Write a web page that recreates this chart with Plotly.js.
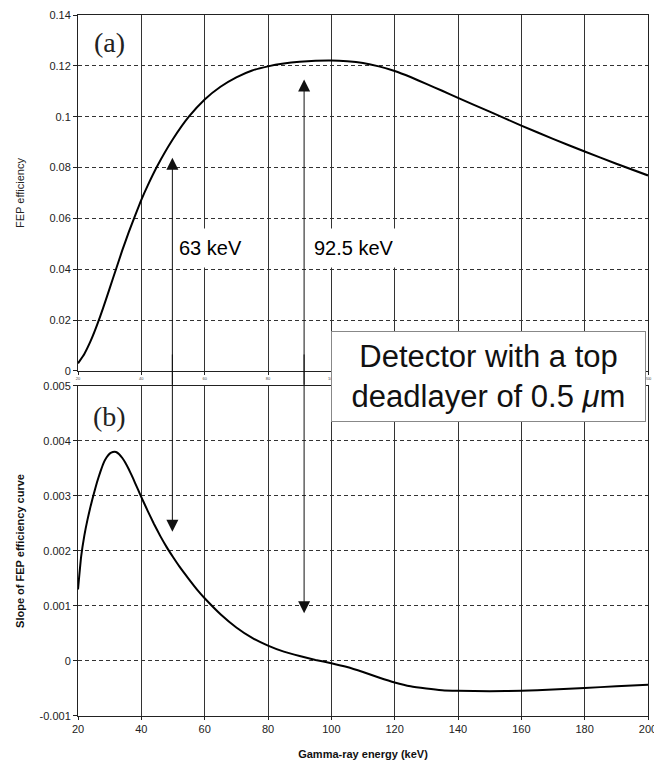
<!DOCTYPE html>
<html>
<head>
<meta charset="utf-8">
<script src="https://cdn.plot.ly/plotly-3.0.1.min.js"></script>
<style>html,body{margin:0;padding:0;background:#fff;}#chart{width:654px;height:765px;}</style>
</head>
<body>
<div id="chart"></div>
<script>
// Panel (a): FEP efficiency vs gamma-ray energy
const energyA = [20,22,24,26,28,30,32,34,36,38,40,42,45,50,55,60,65,70,75,80,85,90,95,100,105,110,115,120,125,130,135,140,150,160,170,180,190,200];
const fepEff  = [0.003,0.0067,0.0118,0.018,0.025,0.0325,0.040,0.0475,0.0545,0.061,0.0673,0.0729,0.0805,0.0912,0.1,0.1068,0.1118,0.1155,0.1182,0.1198,0.1209,0.1216,0.1220,0.1221,0.1218,0.1211,0.1198,0.1180,0.1156,0.1129,0.1102,0.1074,0.1020,0.0965,0.0913,0.0863,0.0815,0.0769];

// Panel (b): slope of FEP efficiency curve
const energyB = [20,21,22,23,24,25,26,27,28,29,30,31,32,33,34,35,36,37,38,39,40,42,44,46,48,50,52,55,58,60,65,70,75,80,85,90,95,100,105,110,115,120,125,130,135,140,150,160,170,180,190,200];
const slope   = [0.0013,0.0019,0.00228,0.00257,0.00282,0.00304,0.00325,0.00343,0.00359,0.0037,0.00377,0.0038,0.0038,0.00376,0.00369,0.0036,0.00349,0.00337,0.00324,0.00311,0.00298,0.00273,0.00249,0.00227,0.00207,0.00189,0.00172,0.00149,0.00127,0.00114,0.00085,0.00061,0.00042,0.00028,0.00017,0.00009,0.00002,-0.00004,-0.00011,-0.0002,-0.0003,-0.00039,-0.00046,-0.0005,-0.00053,-0.00054,-0.00055,-0.00054,-0.00052,-0.00049,-0.00046,-0.00043];

const xTicks = [20,40,60,80,100,120,140,160,180,200];
const yTicksA = [0,0.02,0.04,0.06,0.08,0.1,0.12,0.14];
const yTickTextA = ['0','0.02','0.04','0.06','0.08','0.1','0.12','0.14'];
const yTicksB = [-0.001,0,0.001,0.002,0.003,0.004,0.005];
const yTickTextB = ['-0.001','0','0.001','0.002','0.003','0.004','0.005'];

// Arrow markers: energy, tip in panel (a), tip in panel (b)
const arrowEnergy = [49.8, 91.4];
const arrowTipA = [0.0839, 0.1146];
const arrowTipB = [0.00235, 0.00087];
const arrowLabels = ['63 keV', '92.5 keV'];
const labelEnergy = [61.8, 107.2];
const labelY = [0.0485, 0.0485];

const FONT = 'Liberation Sans, Arial, sans-serif';
const gridCol = '#333';

const traces = [
  {x: energyA, y: fepEff, xaxis: 'x', yaxis: 'y', mode: 'lines', line: {color: '#000', width: 2, shape: 'spline', smoothing: 0.4}, hoverinfo: 'skip'},
  {x: energyB, y: slope, xaxis: 'x2', yaxis: 'y2', mode: 'lines', line: {color: '#000', width: 2, shape: 'spline', smoothing: 0.4}, hoverinfo: 'skip'}
];

const annotations = [];
for (let i = 0; i < arrowEnergy.length; i++) {
  annotations.push({xref: 'x', yref: 'y', axref: 'x', ayref: 'y', x: arrowEnergy[i], y: arrowTipA[i], ax: arrowEnergy[i], ay: -0.006, text: '', showarrow: true, arrowhead: 2, arrowsize: 2.4, arrowwidth: 1, arrowcolor: '#111', standoff: 0, startstandoff: 0});
  annotations.push({xref: 'x2', yref: 'y2', axref: 'x2', ayref: 'y2', x: arrowEnergy[i], y: arrowTipB[i], ax: arrowEnergy[i], ay: 0.0056, text: '', showarrow: true, arrowhead: 2, arrowsize: 2.4, arrowwidth: 1, arrowcolor: '#111', standoff: 0, startstandoff: 0});
}
for (let i = 0; i < arrowLabels.length; i++) {
  annotations.push({xref: 'x', yref: 'y', x: labelEnergy[i], y: labelY[i], text: arrowLabels[i], showarrow: false, font: {family: FONT, size: 20, color: '#000'}, bgcolor: '#fff', borderpad: 1, height: 36});
}
annotations.push({xref: 'x', yref: 'y', x: 30.1, y: 0.129, text: '(a)', showarrow: false, font: {family: 'Liberation Serif, Times New Roman, serif', size: 28, color: '#222'}});
annotations.push({xref: 'x2', yref: 'y2', x: 30.1, y: 0.00444, text: '(b)', showarrow: false, font: {family: 'Liberation Serif, Times New Roman, serif', size: 28, color: '#222'}});
annotations.push({xref: 'paper', yref: 'paper', x: 0.721, y: 0.485, xanchor: 'center', yanchor: 'middle', text: 'Detector with a top<br>deadlayer of 0.5 <i>μ</i>m', showarrow: false, font: {family: FONT, size: 31, color: '#111'}, bgcolor: '#fff', bordercolor: '#888', borderwidth: 1, borderpad: 1, width: 311, height: 87, align: 'center'});

const xBase = {range: [20, 200], tickvals: xTicks, showgrid: true, gridcolor: gridCol, gridwidth: 1, showline: true, linecolor: '#222', linewidth: 1, mirror: true, ticks: 'outside', ticklen: 3, tickcolor: '#222', zeroline: false, ticklabeloverflow: 'allow'};
const yBase = {showgrid: true, gridcolor: gridCol, gridwidth: 1, griddash: '4px,3px', showline: true, linecolor: '#222', linewidth: 1, mirror: true, ticks: 'outside', ticklen: 4, tickcolor: '#222', zeroline: false, tickfont: {family: FONT, size: 11, color: '#222'}};

const layout = {
  width: 654, height: 765,
  margin: {l: 78, r: 6, t: 15, b: 49},
  paper_bgcolor: '#fff', plot_bgcolor: '#fff',
  showlegend: false,
  xaxis: Object.assign({}, xBase, {anchor: 'y', domain: [0, 1], tickfont: {family: FONT, size: 4, color: '#444'}}),
  yaxis: Object.assign({}, yBase, {domain: [0.4922, 1], range: [0, 0.14], tickvals: yTicksA, ticktext: yTickTextA,
    title: {text: 'FEP efficiency', font: {family: FONT, size: 11, color: '#222'}, standoff: 22}}),
  xaxis2: Object.assign({}, xBase, {anchor: 'y2', domain: [0, 1], tickfont: {family: FONT, size: 11, color: '#222'},
    title: {text: '<b>Gamma-ray energy (keV)</b>', font: {family: FONT, size: 11, color: '#111'}, standoff: 16}}),
  yaxis2: Object.assign({}, yBase, {domain: [0, 0.4708], range: [-0.001, 0.005], tickvals: yTicksB, ticktext: yTickTextB,
    title: {text: '<b>Slope of FEP efficiency curve</b>', font: {family: FONT, size: 11, color: '#111'}, standoff: 12}}),
  annotations: annotations
};

Plotly.newPlot('chart', traces, layout, {staticPlot: true, displayModeBar: false});
</script>
</body>
</html>
